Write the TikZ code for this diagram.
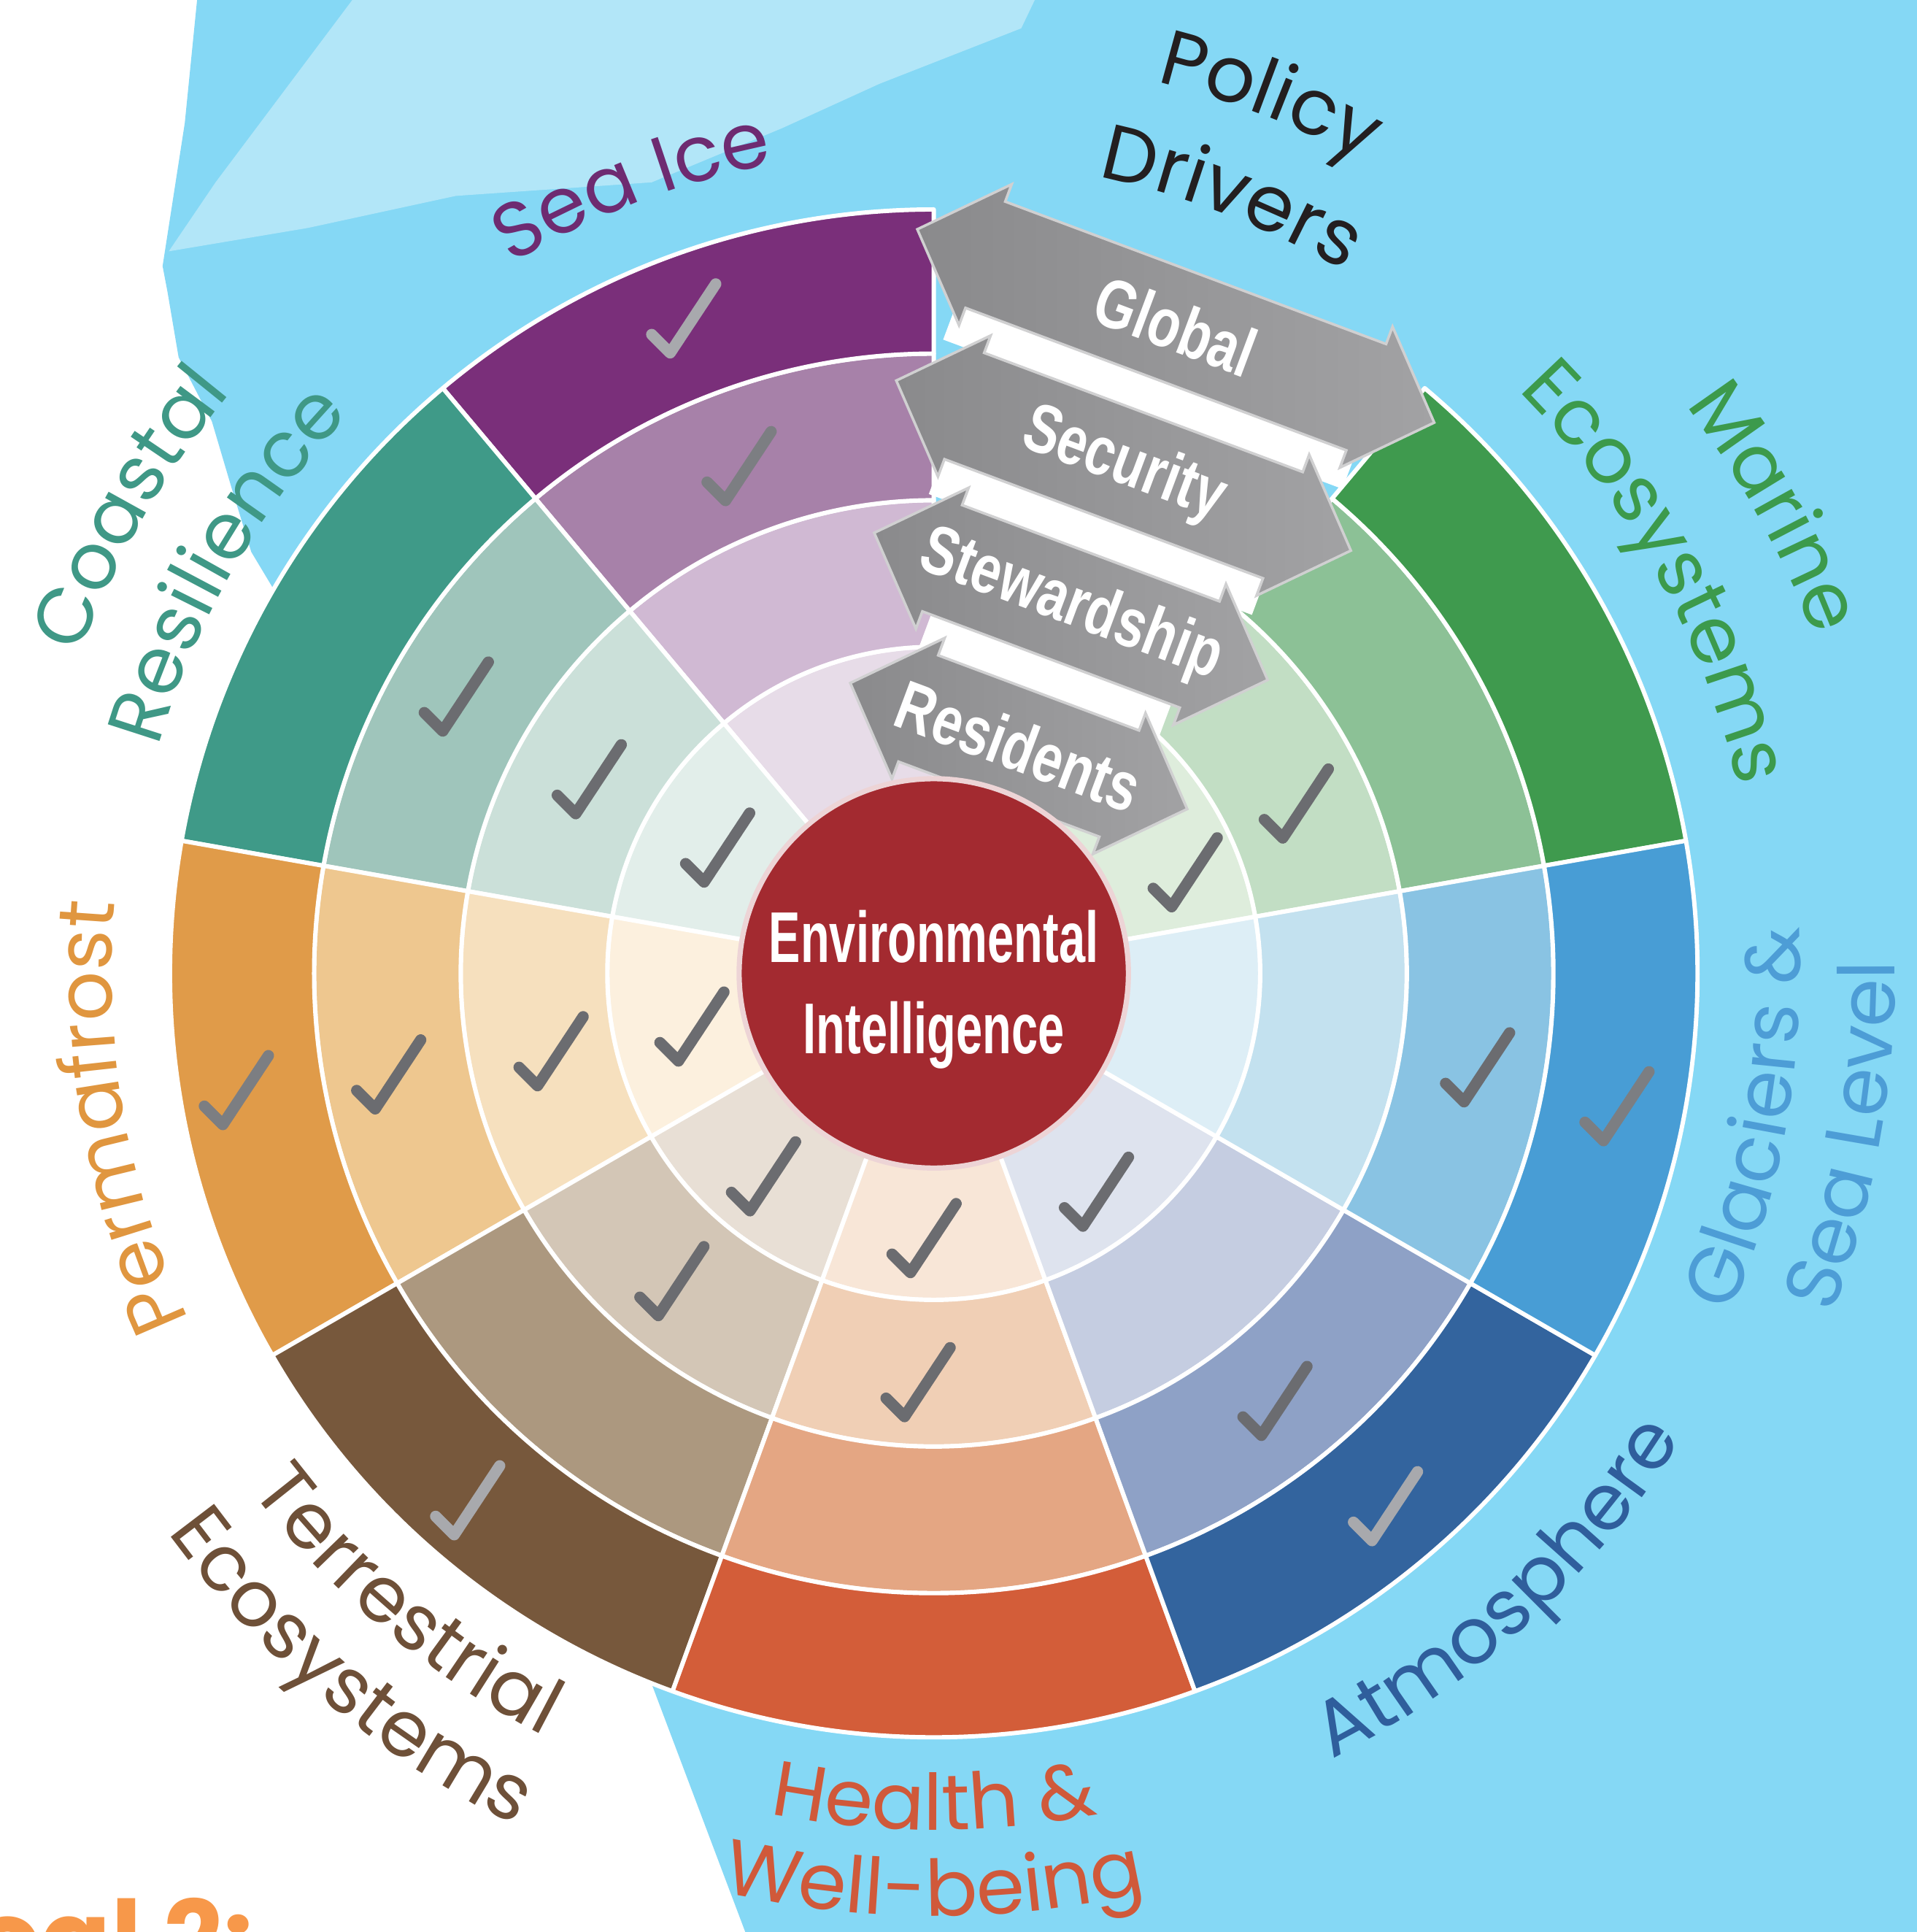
\documentclass[tikz,border=0pt]{standalone}
\usepackage{fontspec}
\usetikzlibrary{shapes.arrows,decorations.text}
\newfontfamily\lblfont{Poppins}
\newfontfamily\arrfont[FakeStretch=0.77]{Liberation Sans}
\newfontfamily\eifont[FakeStretch=0.66]{Liberation Sans}
\newcommand\lblsize{\lblfont\fontsize{18}{20}\selectfont}
\definecolor{skyblue}{HTML}{85D8F5}
\definecolor{skylight}{HTML}{B2E6F8}
\definecolor{sea1}{HTML}{7A2F7A}\definecolor{sea2}{HTML}{A781A9}\definecolor{sea3}{HTML}{D0B9D3}\definecolor{sea4}{HTML}{E7DCE8}
\definecolor{coa1}{HTML}{3F9A88}\definecolor{coa2}{HTML}{9FC5BB}\definecolor{coa3}{HTML}{CBE0D9}\definecolor{coa4}{HTML}{E2EEEA}
\definecolor{per1}{HTML}{E09B49}\definecolor{per2}{HTML}{EEC78F}\definecolor{per3}{HTML}{F6E0BE}\definecolor{per4}{HTML}{FCF0DE}
\definecolor{ter1}{HTML}{77583C}\definecolor{ter2}{HTML}{AC987F}\definecolor{ter3}{HTML}{D3C6B6}\definecolor{ter4}{HTML}{E8DFD5}
\definecolor{hea1}{HTML}{D35D39}\definecolor{hea2}{HTML}{E4A683}\definecolor{hea3}{HTML}{F0CFB5}\definecolor{hea4}{HTML}{F8E6D7}
\definecolor{atm1}{HTML}{33649E}\definecolor{atm2}{HTML}{8EA1C6}\definecolor{atm3}{HTML}{C5CDE1}\definecolor{atm4}{HTML}{DEE3EE}
\definecolor{gla1}{HTML}{489DD5}\definecolor{gla2}{HTML}{89C3E3}\definecolor{gla3}{HTML}{C3E1EF}\definecolor{gla4}{HTML}{DDEEF6}
\definecolor{mar1}{HTML}{3F9A4E}\definecolor{mar2}{HTML}{8CC196}\definecolor{mar3}{HTML}{C2DEC4}\definecolor{mar4}{HTML}{DEEDDC}
\definecolor{eired}{HTML}{A32A30}
\definecolor{arrdark}{HTML}{8A8A8C}
\definecolor{arrlight}{HTML}{A2A2A4}
\definecolor{chkdark}{HTML}{6B6C70}
\definecolor{chkmid}{HTML}{7C7E82}
\definecolor{chklight}{HTML}{A8A9AD}
\definecolor{seatxt}{HTML}{6E2B71}
\definecolor{poltxt}{HTML}{231F20}
\definecolor{martxt}{HTML}{3C9A4C}
\definecolor{glatxt}{HTML}{4D9DD6}
\definecolor{atmtxt}{HTML}{2F5E9C}
\definecolor{heatxt}{HTML}{D0593A}
\definecolor{tertxt}{HTML}{6E5038}
\definecolor{pertxt}{HTML}{E0963F}
\definecolor{coatxt}{HTML}{3F9886}
\definecolor{goalorange}{HTML}{F7984A}
\tikzset{
  cell/.style={draw=white,line width=1pt,line join=round},
  band/.style={rectangle,fill=white,minimum height=0.32cm,inner sep=0pt,rotate=-20.5},
  policy/.style={double arrow,double arrow head extend=0.15cm,double arrow tip angle=92,text height=0.45cm,text depth=0.45cm,inner sep=0pt,rotate=-20.5,left color=arrdark,right color=arrlight,draw=white!60!arrdark,line width=0.6pt},
  policytext/.style={text=white,font=\arrfont\bfseries\fontsize{16}{18}\selectfont,rotate=-20.5,inner sep=0pt},
  chkline/.style={line width=2.6pt,line cap=round,line join=round},
  pics/chk/.style={code={\draw[chkline,#1](-0.26,-0.13)--(-0.11,-0.28)--(0.26,0.28);}},
  lbl/.style 2 args={decorate,decoration={text along path,text align=center,text color=#1,text={|\lblsize|#2}}}
}
\begin{document}
\begin{tikzpicture}
\useasboundingbox(-7.58,-7.78)rectangle(7.98,7.90);
\fill[white](-7.58,-7.78)rectangle(7.98,7.90);
\fill[skyblue](-5.98,7.90)--(7.98,7.90)--(7.98,-7.78)--(-1.53,-7.78)--(-2.30,-5.74)--(0,0)--(-5.36,3.12)--(-5.54,3.42)--(-5.70,3.94)--(-5.86,4.48)--(-6.13,5.00)--(-6.22,5.53)--(-6.26,5.74)--(-6.08,6.90)--cycle;
\fill[skylight](-4.72,7.90)--(-5.83,6.42)--(-6.21,5.86)--(-5.08,6.05)--(-3.88,6.31)--(-2.29,6.42)--(-1.23,6.86)--(-0.44,7.22)--(0.71,7.67)--(0.82,7.90)--cycle;
\foreach \a/\s in {10/mar,90/sea,130/coa,170/per,210/ter,250/hea,290/atm,330/gla}
  \foreach \ri/\ro/\k in {1.58/2.65/4,2.65/3.84/3,3.84/5.03/2,5.03/6.20/1}
    \draw[cell,fill=\s\k](\a:\ri)arc[start angle=\a,end angle=\a+40,radius=\ri]--({\a+40}:\ro)arc[start angle=\a+40,end angle=\a,radius=\ro]--cycle;
\node[band,minimum width=3.46cm](bandgs)at(69.5:5.005){};
\node[band,minimum width=2.80cm](bandss)at(69.5:3.79){};
\node[band,minimum width=2.08cm](bandsr)at(69.5:2.575){};
\node[policy,minimum height=4.48cm](glob)at(69.5:5.61){};
\node[policy,minimum height=3.94cm](secu)at(69.5:4.40){};
\node[policy,minimum height=3.41cm](stew)at(69.5:3.18){};
\node[policy,minimum height=2.92cm](resi)at(69.5:1.97){};
\node[policytext](globtext)at(glob){Global};
\node[policytext](secutext)at(secu){Security};
\node[policytext](stewtext)at(stew){Stewardship};
\node[policytext](resitext)at(resi){Residents};
\node[circle,fill=eired,draw=white!80!eired,line width=1.2pt,minimum size=3.16cm,inner sep=0pt](ei)at(0,0){};
\node[font=\eifont\bfseries\fontsize{16.6}{21}\selectfont,text=white,align=center,inner sep=0pt](eitext)at(0,-0.13){Environmental\\Intelligence};
\foreach \a/\r/\c in {110.9/5.69/chklight,111/4.41/chkmid,149.9/4.48/chkdark,150.6/3.21/chkdark,149.8/2.03/chkdark,189.5/5.74/chkmid,190.5/4.50/chkdark,191.5/3.17/chkdark,192.4/2.01/chkdark,228.5/5.71/chklight,229.6/3.28/chkdark,230/2.15/chkdark,267.9/2.15/chkdark,267.8/3.32/chkdark,306.7/2.21/chkdark,308.6/4.44/chkdark,310.3/5.67/chklight,350.2/4.48/chkdark,349/5.65/chkmid,25.1/3.25/chkdark,21.9/2.20/chkdark}
  \pic at(\a:\r){chk=\c};
\path[lbl={seatxt}{Sea Ice}](171:6.70)arc[start angle=171,end angle=51,radius=6.70];
\path[lbl={poltxt}{Drivers}](129:6.60)arc[start angle=129,end angle=9,radius=6.60];
\path[lbl={poltxt}{Policy}](129:7.46)arc[start angle=129,end angle=9,radius=7.46];
\path[lbl={martxt}{Ecosystems}](89:6.70)arc[start angle=89,end angle=-31,radius=6.70];
\path[lbl={martxt}{Marine}](89:7.65)arc[start angle=89,end angle=-31,radius=7.65];
\path[lbl={pertxt}{Permafrost}](250:6.67)arc[start angle=250,end angle=130,radius=6.67];
\path[lbl={coatxt}{Resilience}](210:6.56)arc[start angle=210,end angle=90,radius=6.56];
\path[lbl={coatxt}{Coastal}](210:7.40)arc[start angle=210,end angle=90,radius=7.40];
\path[lbl={glatxt}{Glaciers {\&}}](-70:7.03)arc[start angle=-70,end angle=50,radius=7.03];
\path[lbl={glatxt}{Sea Level}](-70:7.80)arc[start angle=-70,end angle=50,radius=7.80];
\path[lbl={atmtxt}{Atmosphere}](-107.5:7.15)arc[start angle=-107.5,end angle=12.5,radius=7.15];
\path[lbl={heatxt}{Health {\&}}](-150:6.95)arc[start angle=-150,end angle=-30,radius=6.95];
\path[lbl={heatxt}{Well-being}](-150:7.65)arc[start angle=-150,end angle=-30,radius=7.65];
\path[lbl={tertxt}{Terrestrial}](170:6.95)arc[start angle=170,end angle=290,radius=6.95];
\path[lbl={tertxt}{Ecosystems}](170:7.70)arc[start angle=170,end angle=290,radius=7.70];
\node[font=\lblfont\bfseries\fontsize{24}{28}\selectfont,text=goalorange,anchor=base east,inner sep=0pt](goal)at(-5.52,-8.13){Goal 2:};
\end{tikzpicture}
\end{document}
